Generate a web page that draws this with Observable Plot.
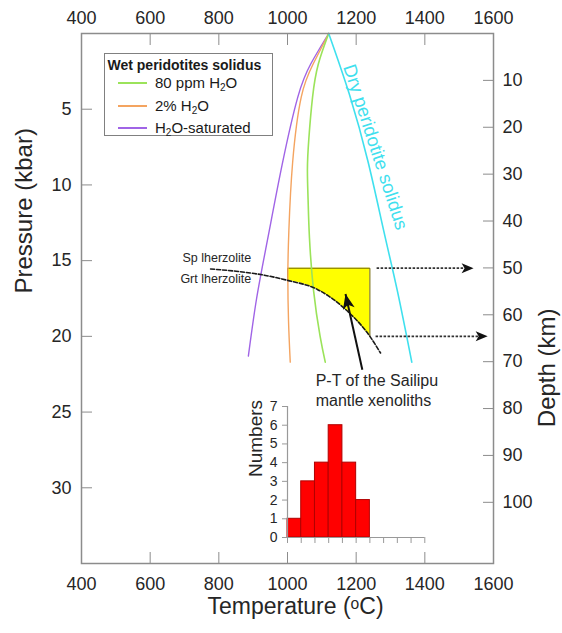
<!DOCTYPE html>
<html>
<head>
<meta charset="utf-8">
<script src="https://cdn.jsdelivr.net/npm/d3@7"></script>
<script src="https://cdn.jsdelivr.net/npm/@observablehq/plot@0.6"></script>
<style>
  body { margin: 0; background: #fff; font-family: "Liberation Sans", Arial, Helvetica, sans-serif; }
  #wrap { position: relative; width: 562px; height: 633px; }
  #inset { position: absolute; left: 230px; top: 395px; }
  #legend { position: absolute; left: 104px; top: 53px; width: 167px; height: 81px;
            border: 1.5px solid #808080; background: #fff; color: #1a1a1a; }
  #legend .lt { position: absolute; left: 2.5px; top: 0.5px; font-weight: bold; font-size: 14px; line-height: 20px; white-space: nowrap; }
  #legend .row { position: absolute; left: 0; height: 22px; line-height: 22px; font-size: 15px; width: 100%; }
  #legend .sw { position: absolute; left: 13px; top: 10px; width: 29px; height: 2px; }
  #legend .lbl { position: absolute; left: 50px; white-space: nowrap; }
  #legend sub { font-size: 10px; vertical-align: -3px; line-height: 0; }
</style>
</head>
<body>
<div id="wrap">
  <div id="main"></div>
  <div id="inset"></div>
  <div id="legend"></div>
</div>
<script>
// ---------- axis ticks ----------
const tempTicks = [400, 600, 800, 1000, 1200, 1400, 1600];
const pressTicks = [5, 10, 15, 20, 25, 30];
const depthTicks = [10, 20, 30, 40, 50, 60, 70, 80, 90, 100];
const kmPerKbar = 3.23;

// ---------- solidus curves (T in °C, P in kbar) ----------
const wet80T = [1120, 1090, 1073, 1062, 1058, 1060, 1064, 1076, 1095, 1110];
const wet80P = [0, 2, 4.2, 7, 9, 11, 13.5, 17, 20, 21.7];
const wet2T = [1120, 1075, 1040, 1015, 1004, 1001, 1003, 1008];
const wet2P = [0, 2, 4.2, 8.5, 13, 16, 19, 21.7];
const wetSatT = [1120, 1068, 1030, 985, 942, 910, 886];
const wetSatP = [0, 2, 4.2, 8.6, 13.6, 17.5, 21.3];
const dryT = [1120, 1180, 1235, 1280, 1320, 1362];
const dryP = [0, 4, 8.5, 13, 17, 21.7];

// spinel / garnet lherzolite transition
const transT = [776, 850, 930, 1000, 1087, 1163, 1240, 1271];
const transP = [15.55, 15.7, 15.95, 16.3, 16.9, 18.1, 20.0, 21.1];

// P-T box of the xenoliths
const boxT = [1000, 1240];
const boxP = [15.5, 20];

// depth arrows
const arrowP = [15.5, 20];
const arrowStartT = [1261, 1258];
const arrowTipT = [1542, 1583];

// pointer arrow
const ptrStart = { T: 1218, P: 22.2 };
const ptrTip = { T: 1169, P: 17.2 };

// histogram of xenolith temperatures
const binEdges = [1000, 1040, 1080, 1120, 1160, 1200, 1240];
const counts = [1, 3, 4, 6, 4, 2];
const histTicksX = [1000, 1040, 1080, 1120, 1160, 1200, 1240, 1280, 1320, 1360, 1400];
const histTicksY = [0, 1, 2, 3, 4, 5, 6, 7];

// labels
const dryLabel = { label: "Dry peridotite solidus", T: 1256, P: 7.5 };
const spLabel = { label: "Sp lherzolite", T: 694, P: 14.8 };
const grtLabel = { label: "Grt lherzolite", T: 688, P: 16.2 };
const ptLabel = { label: "P-T of the Sailipu\nmantle xenoliths", T: 1082, P: 23.5 };

const legendTitle = "Wet peridotites solidus";
const legendLabels = ["80 ppm H₂O", "2% H₂O", "H₂O-saturated"];

// ---------- styles ----------
const FONT = '"Liberation Sans", Arial, Helvetica, sans-serif';
const GRAY = "#8c8c8c";
const TXT = "#262626";
const GREEN = "#9be35a", ORANGE = "#f4a460", PURPLE = "#a064e6", CYAN = "#3fe0ee";
const legendColors = [GREEN, ORANGE, PURPLE];
const plain = d => String(d);

const pts = (T, P) => T.map((t, i) => ({ T: t, P: P[i] }));
const trans = pts(transT, transP);
const boxCurve = trans.filter(d => d.T >= boxT[0] && d.T <= boxT[1]);
const boxOutline = [
  { T: boxT[0], P: boxCurve[0].P },
  { T: boxT[0], P: boxP[0] },
  { T: boxT[1], P: boxP[0] },
  { T: boxT[1], P: boxP[1] }
];
const arrows = arrowP.map((p, i) => ({ P: p, T1: arrowStartT[i], T2: arrowTipT[i] }));

const headSmall = { draw(ctx) { ctx.moveTo(0, 0); ctx.lineTo(-5, 12); ctx.lineTo(0, 9); ctx.lineTo(5, 12); ctx.closePath(); } };
const headBig = { draw(ctx) { ctx.moveTo(0, 0); ctx.lineTo(-6, 15); ctx.lineTo(0, 11); ctx.lineTo(6, 15); ctx.closePath(); } };

const depthP = depthTicks.map(d => d / kmPerKbar);

const main = Plot.plot({
  width: 562, height: 633,
  marginLeft: 81, marginRight: 69, marginTop: 33, marginBottom: 70,
  x: { domain: [400, 1600] },
  y: { domain: [0, 35], reverse: true },
  style: { fontFamily: FONT, background: "white", color: TXT, overflow: "visible" },
  marks: [
    // yellow P-T field
    Plot.areaY(boxCurve, { x: "T", y1: () => boxP[0], y2: "P", fill: "#ffff00", curve: "monotone-x" }),
    Plot.line(boxOutline, { x: "T", y: "P", stroke: "#6f6400", strokeWidth: 1 }),
    // solidi
    Plot.line(pts(wetSatT, wetSatP), { x: "T", y: "P", stroke: PURPLE, strokeWidth: 1.4, curve: "natural" }),
    Plot.line(pts(wet2T, wet2P), { x: "T", y: "P", stroke: ORANGE, strokeWidth: 1.4, curve: "natural" }),
    Plot.line(pts(wet80T, wet80P), { x: "T", y: "P", stroke: GREEN, strokeWidth: 1.6, curve: "natural" }),
    Plot.line(pts(dryT, dryP), { x: "T", y: "P", stroke: CYAN, strokeWidth: 1.6, curve: "natural" }),
    // transition
    Plot.line(trans, { x: "T", y: "P", stroke: "#1a1a1a", strokeWidth: 1.6, strokeDasharray: "4,2", curve: "monotone-x" }),
    // depth arrows
    Plot.ruleY(arrows, { y: "P", x1: "T1", x2: d => d.T2 - 25, stroke: "#333", strokeWidth: 1.8, strokeDasharray: "2.5,1.5" }),
    Plot.dot(arrows, { x: "T2", y: "P", symbol: headSmall, r: 5, fill: "#111", stroke: "none", rotate: 90 }),
    // pointer
    Plot.link([0], { x1: () => ptrStart.T, y1: () => ptrStart.P, x2: () => ptrTip.T, y2: () => ptrTip.P, stroke: "#111", strokeWidth: 2 }),
    Plot.dot([ptrTip], { x: "T", y: "P", symbol: headBig, r: 6, fill: "#111", stroke: "none", rotate: -12.5 }),
    // frame & axes (inward ticks)
    Plot.frame({ stroke: GRAY, strokeWidth: 1.5 }),
    Plot.axisX(tempTicks, { anchor: "bottom", tickSize: -11, tickPadding: 25, fontSize: 18, stroke: GRAY, fill: TXT, label: null, tickFormat: plain }),
    Plot.axisX(tempTicks, { anchor: "top", tickSize: -11, tickPadding: 21, fontSize: 18, stroke: GRAY, fill: TXT, label: null, tickFormat: plain }),
    Plot.axisY(pressTicks, { anchor: "left", tickSize: -11, tickPadding: 21, fontSize: 18, stroke: GRAY, fill: TXT, label: null, tickFormat: plain }),
    Plot.axisY(depthP, { anchor: "right", tickSize: -11, tickPadding: 20, fontSize: 18, stroke: GRAY, fill: TXT, label: null,
      tickFormat: p => String(Math.round(p * kmPerKbar)) }),
    // axis titles
    Plot.text(["Temperature (ᵒC)"], { text: d => d, frameAnchor: "bottom", dy: 50, dx: 8, fontSize: 23, fill: TXT }),
    Plot.text(["Pressure (kbar)"], { text: d => d, frameAnchor: "left", dx: -57, dy: -5, rotate: -90, fontSize: 24, fill: TXT }),
    Plot.text(["Depth (km)"], { text: d => d, frameAnchor: "right", dx: 54, dy: 10, rotate: -90, fontSize: 24, fill: TXT }),
    // annotations
    Plot.text([dryLabel], { x: "T", y: "P", text: "label", rotate: 72, fontSize: 18.5, fill: CYAN }),
    Plot.text([spLabel, grtLabel], { x: "T", y: "P", text: "label", textAnchor: "start", fontSize: 12.5, fill: TXT }),
    Plot.text([ptLabel], { x: "T", y: "P", text: "label", textAnchor: "start", fontSize: 16, lineHeight: 1.25, fill: TXT })
  ]
});
document.getElementById("main").appendChild(main);

// ---------- inset histogram ----------
const bins = counts.map((c, i) => ({ x1: binEdges[i], x2: binEdges[i + 1], n: c }));
const inset = Plot.plot({
  width: 200, height: 155,
  marginLeft: 57, marginRight: 5.7, marginTop: 11, marginBottom: 13,
  x: { domain: [1000, 1400] },
  y: { domain: [0, 7] },
  style: { fontFamily: FONT, background: "transparent", color: TXT, overflow: "visible" },
  marks: [
    Plot.rectY(bins, { x1: "x1", x2: "x2", y: "n", fill: "#ff0000", stroke: "#b00000", strokeWidth: 1 }),
    Plot.ruleX([1000], { y1: 0, y2: 7, stroke: "#999", strokeWidth: 1.2 }),
    Plot.ruleY([0], { x1: 1000, x2: 1400, stroke: "#999", strokeWidth: 1.2 }),
    Plot.axisX(histTicksX, { anchor: "bottom", tickSize: 6, stroke: "#999", fill: "none", label: null }),
    Plot.axisY(histTicksY, { anchor: "left", tickSize: 5, tickPadding: 5, fontSize: 14, stroke: "#999", fill: TXT, label: null, tickFormat: plain }),
    Plot.text(["Numbers"], { text: d => d, frameAnchor: "left", dx: -32, dy: 5, rotate: -90, fontSize: 19, fill: TXT })
  ]
});
document.getElementById("inset").appendChild(inset);

// ---------- legend ----------
const rowTops = [17.5, 40.5, 62.5];
const lg = document.getElementById("legend");
lg.innerHTML = `<div class="lt">${legendTitle}</div>` +
  legendLabels.map((l, i) =>
    `<div class="row" style="top:${rowTops[i]}px"><span class="sw" style="background:${legendColors[i]}"></span>` +
    `<span class="lbl">${l.replace("₂", "<sub>2</sub>")}</span></div>`).join("");
</script>
</body>
</html>
